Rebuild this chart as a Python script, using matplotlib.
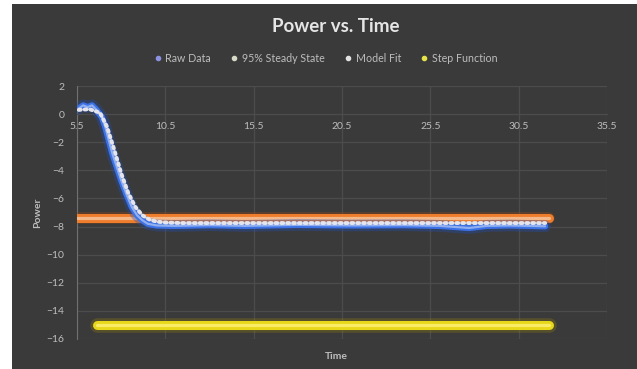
import matplotlib
matplotlib.use("Agg")
import matplotlib.pyplot as plt
from matplotlib.lines import Line2D
from matplotlib.patches import Rectangle

plt.rcParams["font.family"] = ["Lato", "DejaVu Sans"]

# measured raw signal
time_raw = [5.6, 5.85, 6.1, 6.35, 6.6, 6.9, 7.1, 7.3, 7.5, 7.75, 8.0, 8.3, 8.6, 8.9,
            9.2, 9.5, 10.0, 11.0, 13.0, 15.0, 18.0, 21.0, 24.0, 26.0, 27.7, 28.7,
            30.0, 32.0]
power_raw = [0.4, 0.62, 0.5, 0.62, 0.3, -0.2, -0.9, -1.85, -2.8, -3.75, -4.7, -5.7,
             -6.6, -7.2, -7.55, -7.8, -7.92, -7.95, -7.9, -7.95, -7.88, -7.92, -7.9,
             -7.95, -8.1, -7.95, -7.92, -7.98]

# fitted model
time_fit = [5.6, 6.2, 6.8, 7.2, 7.6, 8.0, 8.4, 8.8, 9.2, 9.6, 10.0, 10.6, 11.5, 13.0, 32.0]
power_fit = [0.3, 0.35, 0.1, -0.9, -2.5, -4.2, -5.6, -6.6, -7.2, -7.5, -7.65, -7.72,
             -7.75, -7.75, -7.75]

# 95% of steady state and the input step
time_ss = [5.5, 32.2]
power_ss = [-7.4, -7.4]
time_step = [6.65, 32.2]
power_step = [-15.0, -15.0]

x_ticks = [5.5, 10.5, 15.5, 20.5, 25.5, 30.5, 35.5]
y_ticks = [2, 0, -2, -4, -6, -8, -10, -12, -14, -16]

BG = "#3a3a3a"
GRID = "#4c4c4c"
TXT = "#bdbdbd"

fig = plt.figure(figsize=(6.37, 3.69), dpi=100)
fig.patch.set_facecolor("white")
fig.add_artist(Rectangle((12 / 637, 0), 1, 1 - 4 / 369, transform=fig.transFigure,
                         facecolor=BG, edgecolor="none", zorder=0))

ax = fig.add_axes([77 / 637, 1 - 339 / 369, 530 / 637, 253 / 369])
ax.set_facecolor(BG)
ax.set_xlim(5.5, 35.5)
ax.set_ylim(-16, 2)
ax.set_xticks(x_ticks)
ax.set_xticklabels([f"{v:g}" for v in x_ticks])
ax.set_yticks(y_ticks)
ax.grid(True, color=GRID, linewidth=0.9)
ax.set_axisbelow(True)
for s in ["top", "right"]:
    ax.spines[s].set_visible(False)
ax.spines["left"].set_color("#707070")
ax.spines["bottom"].set_position(("data", 0))
ax.spines["bottom"].set_color(GRID)
ax.tick_params(length=0, colors=TXT, labelsize=7.5)
ax.tick_params(axis="y", pad=9)
ax.tick_params(axis="x", pad=6)


def glow_line(x, y, core, glow, center, lw, z, glow_extra=4):
    ax.plot(x, y, color=glow, lw=lw + glow_extra, alpha=0.35, solid_capstyle="round", zorder=z)
    ax.plot(x, y, color=core, lw=lw, solid_capstyle="round", zorder=z + 0.1)
    ax.plot(x, y, color=center, lw=lw * 0.35, alpha=0.8, solid_capstyle="round", zorder=z + 0.2)


glow_line(time_step, power_step, "#e8d81c", "#8a7a10", "#fff27a", 6.5, 3)
glow_line(time_ss, power_ss, "#ee7d2c", "#9a4a18", "#f8c8a0", 6.5, 3, glow_extra=2)
glow_line(time_raw, power_raw, "#3c72e6", "#2050c0", "#a8c0f2", 4.5, 4)
ax.plot(time_fit, power_fit, color="#e4e4ea", lw=2.8, linestyle=(0, (0.5, 1.0)),
        dash_capstyle="round", zorder=5)

fig.text(336 / 637, 1 - 27 / 369, "Power vs. Time", ha="center", va="center",
         fontsize=13.5, fontweight="bold", color="#e6e6e6")
ax.set_xlabel("Time", fontsize=7.5, fontweight="bold", color=TXT)
ax.xaxis.set_label_coords(0.49, -0.05)
fig.text(38 / 637, 1 - 213 / 369, "Power", rotation=90, ha="center", va="center",
         fontsize=7.5, fontweight="bold", color=TXT)

handles = [
    Line2D([], [], ls="none", marker="o", ms=3, color="#8c92e0", label="Raw Data"),
    Line2D([], [], ls="none", marker="o", ms=3, color="#d8d8c8", label="95% Steady State"),
    Line2D([], [], ls="none", marker="o", ms=3, color="#e2e2e2", label="Model Fit"),
    Line2D([], [], ls="none", marker="o", ms=3, color="#e4e44a", label="Step Function"),
]
leg = fig.legend(handles=handles, loc="center", bbox_to_anchor=(326 / 637, 1 - 58 / 369),
                 ncol=4, frameon=False, fontsize=7.7, handlelength=0.6,
                 handletextpad=0.4, columnspacing=1.9)
for t in leg.get_texts():
    t.set_color(TXT)

fig.savefig("out.png", dpi=100, facecolor=fig.get_facecolor())
